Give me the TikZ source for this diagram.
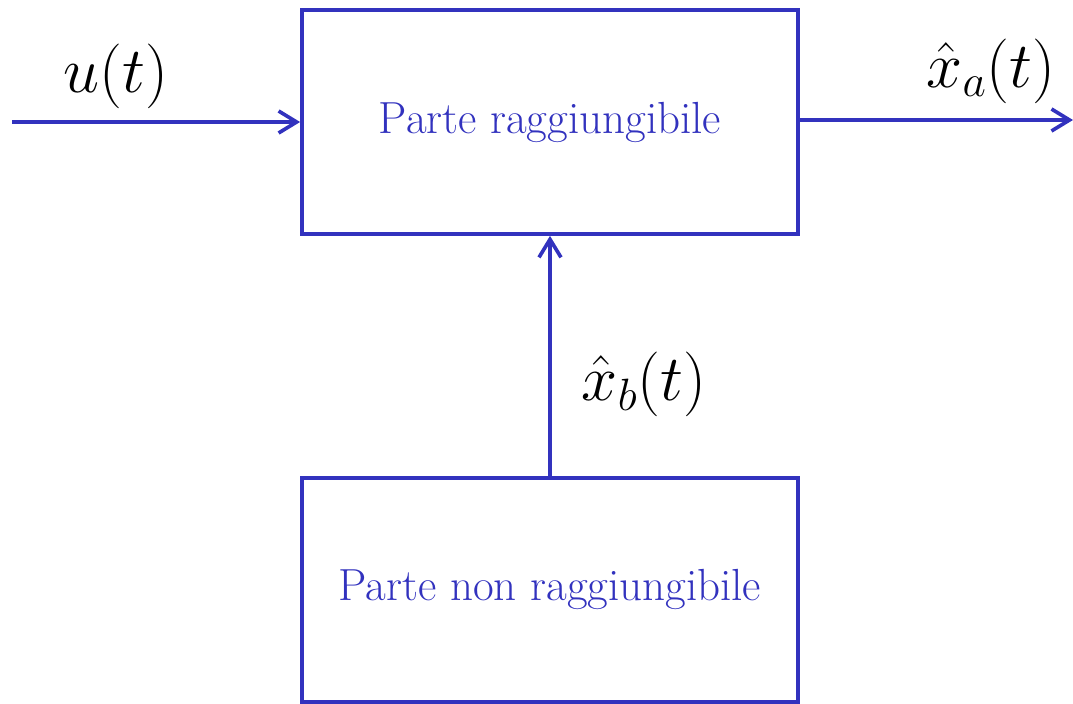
\RequirePackage{fix-cm}
\documentclass[tikz,border=0pt]{standalone}
\usepackage{amsmath}
\usepackage{xcolor}
\usetikzlibrary{positioning, arrows.meta}
\definecolor{blublk}{RGB}{50,50,190}

\begin{document}
\begin{tikzpicture}[
        x=0.025cm, y=-0.025cm,
        blk/.style = {rectangle, draw=blublk, line width=2.6pt, minimum width=12.4cm, minimum height=5.6cm, text=blublk, font=\fontsize{32}{38}\selectfont},
        arrow/.style = {draw=blublk, line width=2.6pt, -{Straight Barb[length=4.5mm, width=5.5mm]}},
        lbl/.style = {inner sep=0pt, font=\fontsize{46}{54}\selectfont}
    ]
    \useasboundingbox (0,0) rectangle (1073,704);

    % --- BLOCCHI ---
    \node[blk] (ragg) at (550,122) {Parte raggiungibile};
    \node[blk, below=6cm of ragg] (nonragg) {Parte non raggiungibile};

    % estremi liberi di ingresso e uscita
    \coordinate (uin) at (12,122);
    \coordinate (xout) at (1073,120);

    % --- FRECCE ---
    \draw[arrow] (uin) -- node[lbl, above=0.3cm, pos=0.36] {$u(t)$} (ragg.west);
    \draw[arrow] (ragg.east |- xout) -- node[lbl, above=0.37cm, pos=0.70] {$\hat{x}_a(t)$} (xout);
    \draw[arrow] (nonragg.north) -- node[lbl, right=0.75cm, pos=0.38] {$\hat{x}_b(t)$} (ragg.south);

\end{tikzpicture}
\end{document}
